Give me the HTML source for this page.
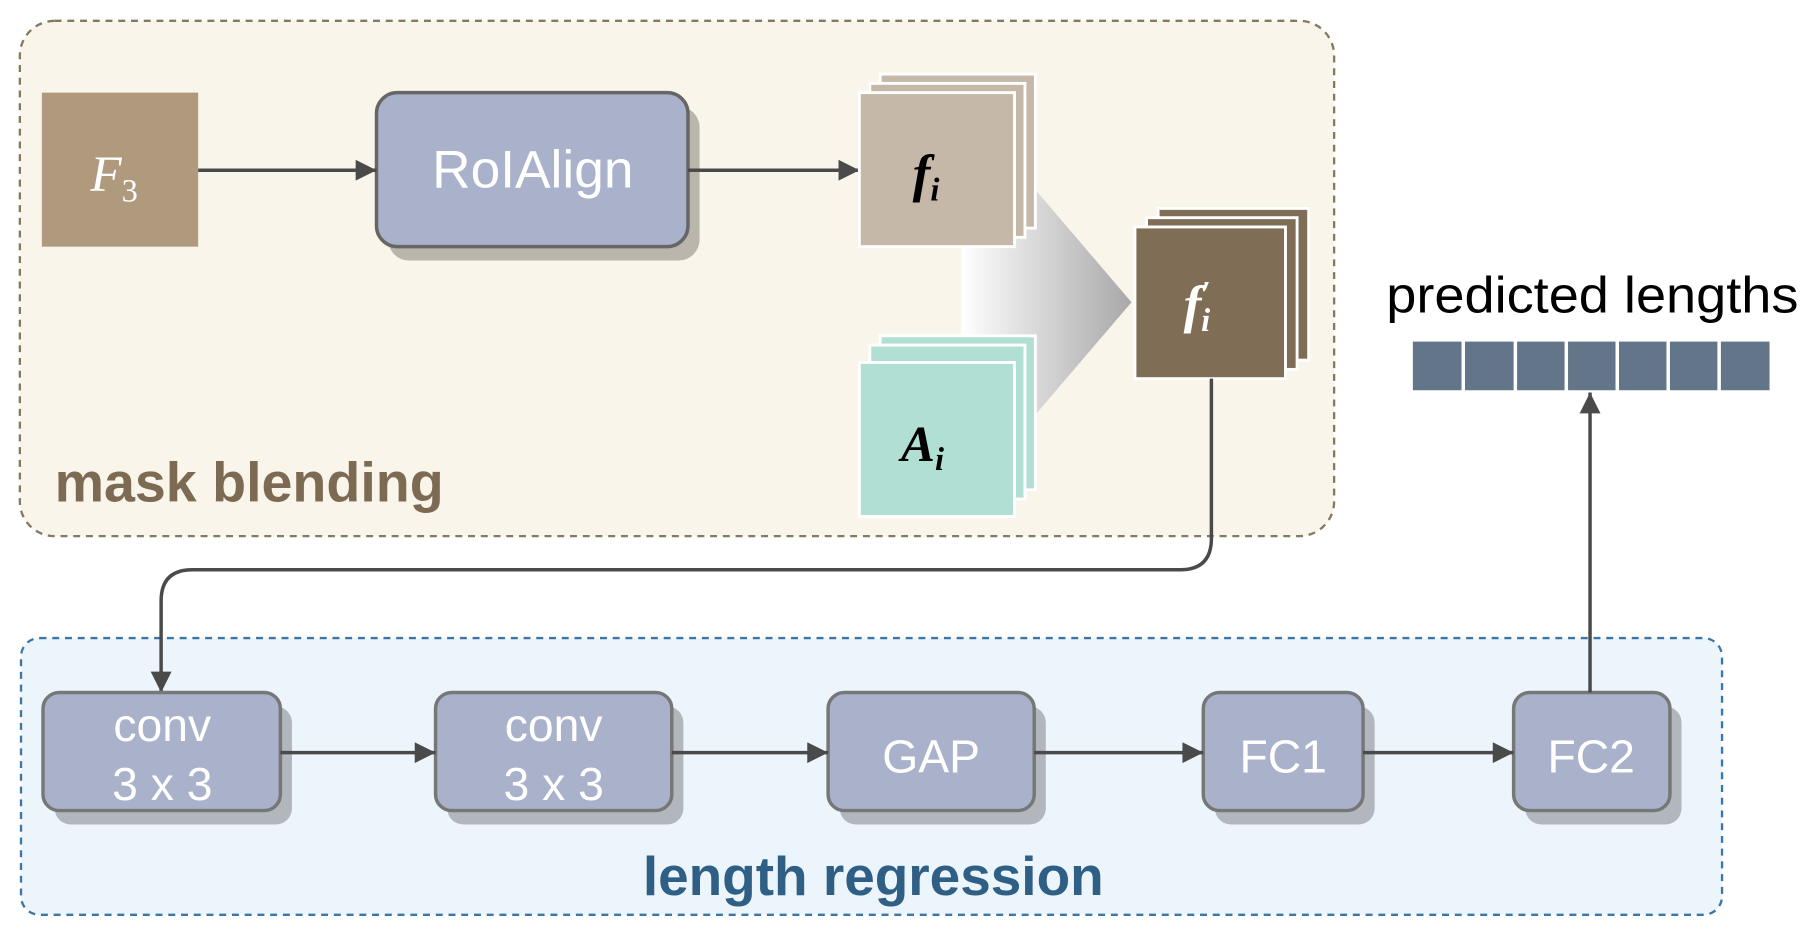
<!DOCTYPE html>
<html><head><meta charset="utf-8"><style>html,body{margin:0;padding:0;background:#fff}svg{display:block}</style></head>
<body>
<svg width="1816" height="931" viewBox="0 0 1568 804" xmlns="http://www.w3.org/2000/svg" font-family="'Liberation Sans', sans-serif">
<defs>
<linearGradient id="g" x1="0" x2="1" y1="0" y2="0"><stop offset="0" stop-color="#ffffff"/><stop offset="1" stop-color="#a8a8a8"/></linearGradient>
<marker id="a2" viewBox="0 0 10 10" refX="10" refY="5" markerWidth="22" markerHeight="18" orient="auto" markerUnits="userSpaceOnUse"><path d="M0,0 L10,5 L0,10z" fill="#4a4a4a"/></marker>
</defs>
<rect x="17" y="18" width="1135" height="445" rx="30" fill="#f9f5ea" stroke="#857a5e" stroke-width="2" stroke-dasharray="6,5"/>
<rect x="18" y="551" width="1469" height="239" rx="16" fill="#edf5fc" stroke="#3b76a5" stroke-width="2" stroke-dasharray="6,5"/>
<text x="47" y="433" font-size="48" font-weight="bold" fill="#7d6a52" textLength="336" lengthAdjust="spacingAndGlyphs">mask blending</text>
<text x="555" y="773" font-size="47" font-weight="bold" fill="#2f5f84" textLength="398" lengthAdjust="spacingAndGlyphs">length regression</text>
<rect x="36" y="80" width="135" height="133" fill="#b09a7e"/>
<text x="78" y="165" font-size="44" font-style="italic" fill="#fff" font-family="'Liberation Serif',serif">F<tspan font-size="28" font-style="normal" dy="9">3</tspan></text>
<rect x="335" y="92" width="269" height="133" rx="18" fill="#bab6ab"/>
<rect x="325" y="80" width="269" height="133" rx="18" fill="#a9b1cb" stroke="#666" stroke-width="3"/>
<text x="460" y="162" font-size="46" fill="#fff" text-anchor="middle">RoIAlign</text>
<line x1="171" y1="147" x2="325" y2="147" stroke="#4a4a4a" stroke-width="3" marker-end="url(#a2)"/>
<line x1="594" y1="147" x2="742" y2="147" stroke="#4a4a4a" stroke-width="3" marker-end="url(#a2)"/>
<polygon points="830,165 895,165 977,261 895,357 830,357" fill="url(#g)"/>
<g stroke="#fff" stroke-width="2.5" fill="#c5b8a8">
<rect x="760" y="64" width="134" height="133"/><rect x="751" y="72" width="134" height="133"/><rect x="742" y="80" width="134" height="133"/>
</g>
<text x="788" y="165" font-size="46" font-style="italic" font-weight="bold" font-family="'Liberation Serif',serif">f<tspan font-size="28" dy="8">i</tspan></text>
<g stroke="#fff" stroke-width="2.5" fill="#b1dfd4">
<rect x="760" y="290" width="134" height="133"/><rect x="751" y="298" width="134" height="133"/><rect x="742" y="313" width="134" height="133"/>
</g>
<text x="778" y="398" font-size="44" font-style="italic" font-weight="bold" font-family="'Liberation Serif',serif">A<tspan font-size="28" dy="8">i</tspan></text>
<g stroke="#fff" stroke-width="2.5" fill="#7f6d55">
<rect x="1000" y="180" width="130" height="131"/><rect x="990" y="188" width="130" height="131"/><rect x="980" y="196" width="130" height="131"/>
</g>
<text x="1022" y="278" font-size="46" font-style="italic" font-weight="bold" fill="#fff" font-family="'Liberation Serif',serif">f<tspan font-size="28" dy="-16">′</tspan><tspan font-size="28" dx="-8" dy="24">i</tspan></text>
<path d="M1046,327 V465 Q1046,492 1019,492 H166 Q139,492 139,519 V598" fill="none" stroke="#4a4a4a" stroke-width="3" marker-end="url(#a2)"/>
<g font-size="40" fill="#fff" text-anchor="middle">
<rect x="47" y="610" width="205" height="102" rx="14" fill="#b2b6bd"/><rect x="37" y="598" width="205" height="102" rx="14" fill="#a9b1cb" stroke="#777" stroke-width="3"/>
<text x="140" y="640">conv</text><text x="140" y="691">3 x 3</text>
<rect x="386" y="610" width="204" height="102" rx="14" fill="#b2b6bd"/><rect x="376" y="598" width="204" height="102" rx="14" fill="#a9b1cb" stroke="#777" stroke-width="3"/>
<text x="478" y="640">conv</text><text x="478" y="691">3 x 3</text>
<rect x="725" y="610" width="178" height="102" rx="14" fill="#b2b6bd"/><rect x="715" y="598" width="178" height="102" rx="14" fill="#a9b1cb" stroke="#777" stroke-width="3"/>
<text x="804" y="667">GAP</text>
<rect x="1049" y="610" width="138" height="102" rx="14" fill="#b2b6bd"/><rect x="1039" y="598" width="138" height="102" rx="14" fill="#a9b1cb" stroke="#777" stroke-width="3"/>
<text x="1108" y="667">FC1</text>
<rect x="1317" y="610" width="135" height="102" rx="14" fill="#b2b6bd"/><rect x="1307" y="598" width="135" height="102" rx="14" fill="#a9b1cb" stroke="#777" stroke-width="3"/>
<text x="1374" y="667">FC2</text>
</g>
<g stroke="#4a4a4a" stroke-width="3">
<line x1="242" y1="650" x2="376" y2="650" marker-end="url(#a2)"/>
<line x1="580" y1="650" x2="715" y2="650" marker-end="url(#a2)"/>
<line x1="893" y1="650" x2="1039" y2="650" marker-end="url(#a2)"/>
<line x1="1177" y1="650" x2="1307" y2="650" marker-end="url(#a2)"/>
<line x1="1373" y1="598" x2="1373" y2="339" marker-end="url(#a2)"/>
</g>
<text x="1375" y="270" font-size="44" text-anchor="middle" fill="#000" textLength="356" lengthAdjust="spacingAndGlyphs">predicted lengths</text>
<g fill="#637588">
<rect x="1220" y="295" width="42" height="42"/><rect x="1265" y="295" width="42" height="42"/><rect x="1310" y="295" width="41" height="42"/><rect x="1354" y="295" width="41" height="42"/><rect x="1398" y="295" width="41" height="42"/><rect x="1442" y="295" width="41" height="42"/><rect x="1486" y="295" width="42" height="42"/>
</g>
</svg>
</body></html>
